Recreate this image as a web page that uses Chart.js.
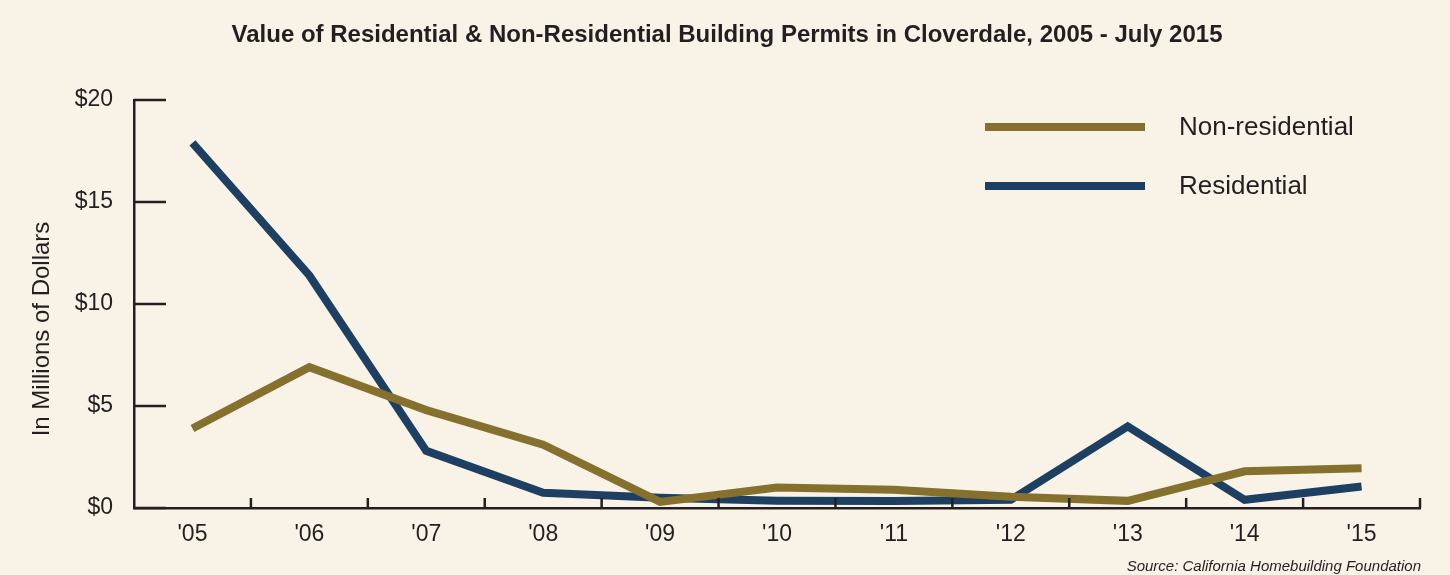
<!DOCTYPE html>
<html>
<head>
<meta charset="utf-8">
<script src="https://cdn.jsdelivr.net/npm/chart.js@4.4.1/dist/chart.umd.min.js"></script>
<style>
    html, body { margin: 0; padding: 0; background: #f8f2e7; }
    #wrap { width: 1450px; height: 575px; }
</style>
</head>
<body>
<div id="wrap"><canvas id="permitChart" width="1450" height="575"></canvas></div>
<script>
// ------------------------------
// Data (values in millions of dollars)
// ------------------------------
const years = ["'05", "'06", "'07", "'08", "'09", "'10", "'11", "'12", "'13", "'14", "'15"];
const nonResidential = [3.9, 6.9, 4.8, 3.1, 0.3, 1.0, 0.9, 0.55, 0.35, 1.8, 1.95];
const residential = [17.9, 11.4, 2.8, 0.75, 0.5, 0.36, 0.34, 0.4, 4.0, 0.4, 1.05];
const yTicks = [0, 5, 10, 15, 20];

const INK = '#231f20';
const GOLD = '#86702e';
const NAVY = '#1d4062';
const FONT = '"Liberation Sans", Arial, sans-serif';

// ------------------------------
// Extra drawing: title, inner tick marks, y title, legend, source
// ------------------------------
const decorations = {
    id: 'decorations',
    afterDraw(chart) {
        const ctx = chart.ctx;
        const x = chart.scales.x;
        const y = chart.scales.y;
        const area = chart.chartArea;

        ctx.save();

        // title
        ctx.fillStyle = INK;
        ctx.font = 'bold 24px ' + FONT;
        ctx.textAlign = 'center';
        ctx.textBaseline = 'middle';
        ctx.fillText('Value of Residential & Non-Residential Building Permits in Cloverdale, 2005 - July 2015', 727, 35);

        ctx.strokeStyle = INK;
        ctx.lineWidth = 2.5;

        // y tick marks pointing into the plot
        yTicks.forEach(v => {
            const py = y.getPixelForValue(v);
            ctx.beginPath();
            ctx.moveTo(area.left, py);
            ctx.lineTo(area.left + 32, py);
            ctx.stroke();
        });

        // x tick marks between categories, pointing up
        const step = (area.right - area.left) / years.length;
        for (let i = 1; i <= years.length; i++) {
            const px = x.getPixelForValue(i - 1) + step / 2;
            ctx.beginPath();
            ctx.moveTo(px, area.bottom);
            ctx.lineTo(px, area.bottom - 10);
            ctx.stroke();
        }

        // y axis title
        ctx.font = '24px ' + FONT;
        ctx.translate(42, 329);
        ctx.rotate(-Math.PI / 2);
        ctx.fillText('In Millions of Dollars', 0, 0);
        ctx.setTransform(1, 0, 0, 1, 0, 0);

        // legend
        chart.data.datasets.forEach((ds, i) => {
            const ly = 127 + i * 59;
            ctx.strokeStyle = ds.borderColor;
            ctx.lineWidth = 8;
            ctx.beginPath();
            ctx.moveTo(985, ly);
            ctx.lineTo(1145, ly);
            ctx.stroke();
            ctx.fillStyle = INK;
            ctx.font = '26px ' + FONT;
            ctx.textAlign = 'left';
            ctx.fillText(ds.label, 1179, ly + 1);
        });

        // source note
        ctx.font = 'italic 15px ' + FONT;
        ctx.textAlign = 'right';
        ctx.fillText('Source: California Homebuilding Foundation', 1421, 567);
        ctx.restore();
    }
};

// ------------------------------
// Chart
// ------------------------------
new Chart(document.getElementById('permitChart').getContext('2d'), {
    type: 'line',
    data: {
        labels: years,
        datasets: [
            { label: 'Non-residential', data: nonResidential, borderColor: GOLD, borderWidth: 8, pointRadius: 0, tension: 0, borderJoinStyle: 'miter', fill: false },
            { label: 'Residential', data: residential, borderColor: NAVY, borderWidth: 8, pointRadius: 0, tension: 0, borderJoinStyle: 'miter', fill: false }
        ]
    },
    options: {
        responsive: false,
        animation: false,
        layout: { padding: { left: 0, right: 30, top: 100, bottom: 0 } },
        plugins: {
            legend: { display: false },
            tooltip: { enabled: false },
            title: { display: false }
        },
        scales: {
            x: {
                offset: true,
                grid: { display: false, offset: true },
                border: { display: true, color: INK, width: 2.5 },
                ticks: {
                    color: INK,
                    padding: 5,
                    font: { family: FONT, size: 23 }
                },
                afterFit: s => { s.height = 67; }
            },
            y: {
                min: 0,
                max: 20,
                grid: { display: false },
                border: { display: true, color: INK, width: 2.5 },
                ticks: {
                    stepSize: 5,
                    color: INK,
                    padding: 13,
                    font: { family: FONT, size: 23 },
                    callback: v => '$' + v
                },
                afterFit: s => { s.width = 134; }
            }
        }
    },
    plugins: [decorations]
});
</script>
</body>
</html>
